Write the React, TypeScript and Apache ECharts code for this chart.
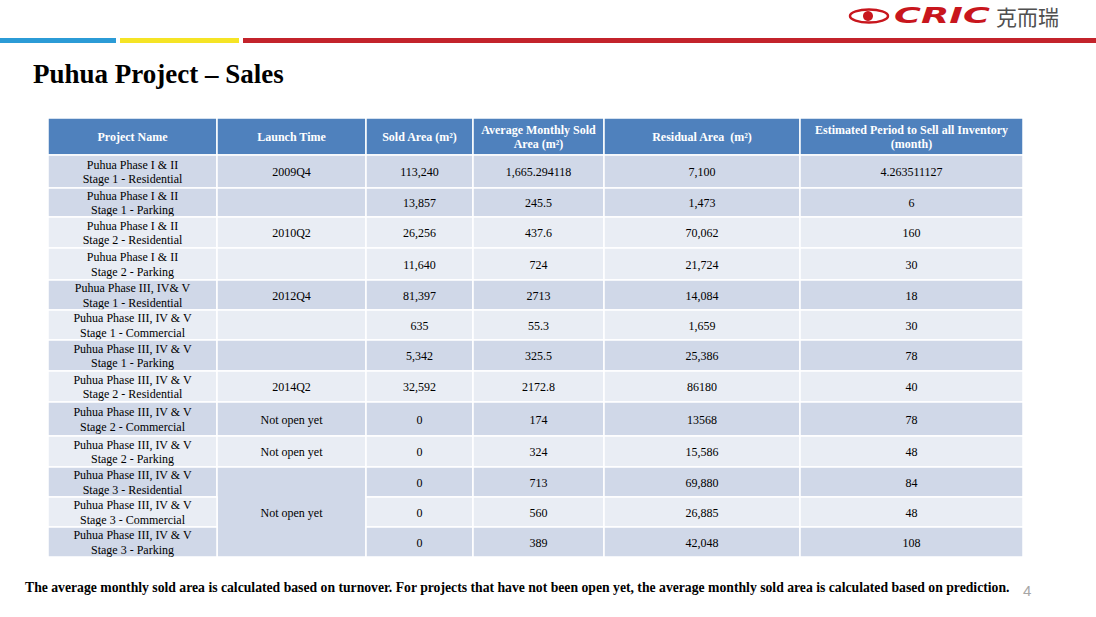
import React, { useEffect, useRef } from "react";
import * as echarts from "echarts";

// ---------- data ----------
const headers = [
  "Project Name",
  "Launch Time",
  "Sold Area (m²)",
  "Average Monthly Sold\nArea (m²)",
  "Residual Area  (m²)",
  "Estimated Period to Sell all Inventory\n(month)",
];

const projectNames = [
  "Puhua Phase I & II\nStage 1 - Residential",
  "Puhua Phase I & II\nStage 1 - Parking",
  "Puhua Phase I & II\nStage 2 - Residential",
  "Puhua Phase I & II\nStage 2 - Parking",
  "Puhua Phase III, IV& V\nStage 1 - Residential",
  "Puhua Phase III, IV & V\nStage 1 - Commercial",
  "Puhua Phase III, IV & V\nStage 1 - Parking",
  "Puhua Phase III, IV & V\nStage 2 - Residential",
  "Puhua Phase III, IV & V\nStage 2 - Commercial",
  "Puhua Phase III, IV & V\nStage 2 - Parking",
  "Puhua Phase III, IV & V\nStage 3 - Residential",
  "Puhua Phase III, IV & V\nStage 3 - Commercial",
  "Puhua Phase III, IV & V\nStage 3 - Parking",
];

const launchTimes = [
  "2009Q4", "", "2010Q2", "", "2012Q4", "", "", "2014Q2",
  "Not open yet", "Not open yet", "Not open yet", "", "",
];
// rows merged into one launch-time cell (0 = covered by the cell above)
const launchSpans = [1, 1, 1, 1, 1, 1, 1, 1, 1, 1, 3, 0, 0];

const soldArea = [
  "113,240", "13,857", "26,256", "11,640", "81,397", "635", "5,342",
  "32,592", "0", "0", "0", "0", "0",
];
const avgMonthlySold = [
  "1,665.294118", "245.5", "437.6", "724", "2713", "55.3", "325.5",
  "2172.8", "174", "324", "713", "560", "389",
];
const residualArea = [
  "7,100", "1,473", "70,062", "21,724", "14,084", "1,659", "25,386",
  "86180", "13568", "15,586", "69,880", "26,885", "42,048",
];
const periodMonths = [
  "4.263511127", "6", "160", "30", "18", "30", "78",
  "40", "78", "48", "84", "48", "108",
];

const title = "Puhua Project – Sales";
const footnote =
  "The average monthly sold area is calculated based on turnover. For projects that have not been open yet, the average monthly sold area is calculated based on prediction.";
const pageNumber = "4";

// ---------- layout / style ----------
const TABLE_LEFT = 48;
const TABLE_TOP = 118;
const colEdges = [0, 169, 318, 425, 556, 752, 975];
const rowEdges = [0, 37, 70, 99, 130, 162, 192, 222, 253, 284, 318, 349, 379, 409, 439];
const DARK = "#D0D8E8";
const LIGHT = "#E9EDF4";
const HEAD = "#4F81BD";
const rowShade = ["D", "D", "L", "L", "D", "L", "D", "L", "D", "L", "D", "L", "D"];
const SERIF = "'Liberation Serif', 'Times New Roman', serif";

type Cell = { col: number; row: number; span: number; text: string; head: boolean; fill: string };

function buildCells(): Cell[] {
  const cells: Cell[] = [];
  headers.forEach((h, c) => cells.push({ col: c, row: 0, span: 1, text: h, head: true, fill: HEAD }));
  projectNames.forEach((name, i) => {
    const row = i + 1;
    const fill = rowShade[i] === "D" ? DARK : LIGHT;
    cells.push({ col: 0, row, span: 1, text: name, head: false, fill });
    if (launchSpans[i] > 0) {
      cells.push({ col: 1, row, span: launchSpans[i], text: launchTimes[i], head: false, fill });
    }
    cells.push({ col: 2, row, span: 1, text: soldArea[i], head: false, fill });
    cells.push({ col: 3, row, span: 1, text: avgMonthlySold[i], head: false, fill });
    cells.push({ col: 4, row, span: 1, text: residualArea[i], head: false, fill });
    cells.push({ col: 5, row, span: 1, text: periodMonths[i], head: false, fill });
  });
  return cells;
}

export default function App() {
  const ref = useRef<HTMLDivElement>(null);

  useEffect(() => {
    const chart = echarts.init(ref.current!, null, { renderer: "svg" });
    const cells = buildCells();

    const option: any = {
      animation: false,
      backgroundColor: "#ffffff",
      grid: {
        left: TABLE_LEFT,
        top: TABLE_TOP,
        width: colEdges[colEdges.length - 1],
        height: rowEdges[rowEdges.length - 1],
      },
      xAxis: { type: "value", min: 0, max: colEdges[colEdges.length - 1], show: false },
      yAxis: { type: "value", min: 0, max: rowEdges[rowEdges.length - 1], inverse: true, show: false },
      series: [
        {
          type: "custom",
          clip: false,
          data: cells.map((c) => [c.col, c.row, c.span]),
          renderItem: (params: any, api: any) => {
            const cell = cells[params.dataIndex];
            const c = api.value(0) as number;
            const r = api.value(1) as number;
            const span = api.value(2) as number;
            const tl = api.coord([colEdges[c], rowEdges[r]]);
            const br = api.coord([colEdges[c + 1], rowEdges[r + span]]);
            const x = tl[0];
            const y = tl[1];
            const w = br[0] - tl[0];
            const h = br[1] - tl[1];
            return {
              type: "group",
              children: [
                {
                  type: "rect",
                  shape: { x, y, width: w, height: h },
                  style: { fill: cell.fill, stroke: "#ffffff", lineWidth: 1.5 },
                },
                {
                  type: "text",
                  style: {
                    text: cell.text,
                    x: x + w / 2,
                    y: y + h / 2 + 0.5,
                    align: "center",
                    verticalAlign: "middle",
                    fill: cell.head ? "#ffffff" : "#000000",
                    fontFamily: SERIF,
                    fontSize: 12,
                    fontWeight: cell.head ? "bold" : "normal",
                    lineHeight: cell.head ? 14 : 14.5,
                  },
                },
              ],
            };
          },
        },
      ],
      graphic: [
        // top colour bar
        { type: "rect", shape: { x: 0, y: 38, width: 116, height: 5 }, style: { fill: "#2B9BD6" } },
        { type: "rect", shape: { x: 120, y: 38, width: 119, height: 5 }, style: { fill: "#F5E425" } },
        { type: "rect", shape: { x: 243, y: 38, width: 853, height: 5 }, style: { fill: "#C3232B" } },
        // logo
        {
          type: "ellipse",
          shape: { cx: 869, cy: 16, rx: 19, ry: 6.5 },
          style: { fill: "none", stroke: "#C8161D", lineWidth: 2.5 },
        },
        { type: "circle", shape: { cx: 868, cy: 16, r: 5 }, style: { fill: "#C8161D" } },
        {
          type: "text",
          x: 894,
          y: 16,
          scaleX: 1.75,
          style: {
            text: "CRIC",
            fill: "#C8161D",
            fontFamily: "'DejaVu Sans', sans-serif",
            fontWeight: "bold",
            fontStyle: "italic",
            fontSize: 21,
            verticalAlign: "middle",
            align: "left",
          },
        },
        {
          type: "text",
          x: 996,
          y: 16,
          style: {
            text: "克而瑞",
            fill: "#505050",
            fontFamily: "'Noto Sans CJK SC', sans-serif",
            fontSize: 21,
            verticalAlign: "middle",
            align: "left",
          },
        },
        // title
        {
          type: "text",
          x: 33,
          y: 74,
          style: {
            text: title,
            fill: "#000000",
            fontFamily: SERIF,
            fontWeight: "bold",
            fontSize: 27,
            verticalAlign: "middle",
            align: "left",
          },
        },
        // footnote
        {
          type: "text",
          x: 25,
          y: 587,
          style: {
            text: footnote,
            fill: "#000000",
            fontFamily: SERIF,
            fontWeight: "bold",
            fontSize: 13.7,
            verticalAlign: "middle",
            align: "left",
          },
        },
        {
          type: "text",
          x: 1023,
          y: 590,
          style: {
            text: pageNumber,
            fill: "#A6A6A6",
            fontFamily: "'Liberation Sans', sans-serif",
            fontSize: 15,
            verticalAlign: "middle",
            align: "left",
          },
        },
      ],
    };

    chart.setOption(option);
    return () => chart.dispose();
  }, []);

  return (
    <div
      ref={ref}
      style={{ position: "fixed", left: 0, top: 0, width: 1096, height: 617, background: "#ffffff" }}
    />
  );
}
